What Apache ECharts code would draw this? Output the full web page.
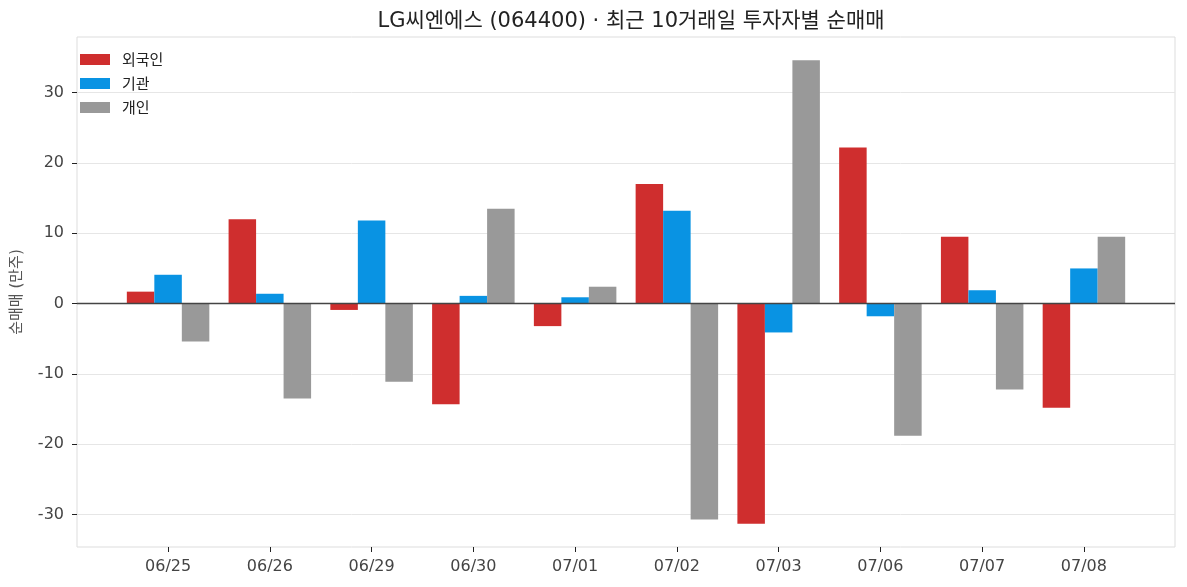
<!DOCTYPE html>
<html><head><meta charset="utf-8">
<script src="https://cdn.jsdelivr.net/npm/echarts@6/dist/echarts.min.js"></script>
<style>html,body{margin:0;padding:0;background:#fff}#c{width:1187px;height:587px}</style>
</head><body><div id="c"></div>
<script>
const dates = ['06/25','06/26','06/29','06/30','07/01','07/02','07/03','07/06','07/07','07/08'];
const foreign = [1.7, 12.0, -0.9, -14.3, -3.2, 17.0, -31.3, 22.2, 9.5, -14.8];
const institution = [4.1, 1.4, 11.8, 1.1, 0.9, 13.2, -4.1, -1.8, 1.9, 5.0];
const individual = [-5.4, -13.5, -11.1, 13.5, 2.4, -30.7, 34.6, -18.8, -12.2, 9.5];
const yTicks = [-30, -20, -10, 0, 10, 20, 30];
const xTickPos = dates.map((d, i) => i);

const FONT = '"DejaVu Sans", "Noto Sans CJK KR"';
const KFONT = '"Noto Sans CJK KR"';
const toPairs = arr => arr.map((v, i) => [i, v]);

const chart = echarts.init(document.getElementById('c'), null, {renderer: 'canvas'});
const barCommon = {type: 'bar', barWidth: 27.5, barGap: '0%', barCategoryGap: '0%'};
chart.setOption({
  animation: false,
  textStyle: {fontFamily: FONT},
  title: {
    text: 'LG씨엔에스 (064400) · 최근 10거래일 투자자별 순매매',
    left: 626, textAlign: 'center', top: 6,
    textStyle: {fontFamily: FONT, fontSize: 21, fontWeight: 'normal', color: '#222'}
  },
  legend: {
    orient: 'vertical', left: 75, top: 47,
    itemWidth: 30, itemHeight: 11, itemGap: 9,
    icon: 'rect',
    textStyle: {fontFamily: KFONT, fontSize: 15, color: '#222', padding: [0, 0, 0, 7]},
    data: ['외국인', '기관', '개인']
  },
  grid: {left: 77, right: 12, top: 37, bottom: 40, show: true, borderColor: '#dddddd', borderWidth: 1, containLabel: false},
  xAxis: {
    type: 'value', min: -0.895, max: 9.895,
    axisLine: {show: false, onZero: false},
    splitLine: {show: false},
    axisTick: {show: true, inside: false, length: 5, lineStyle: {color: '#222', width: 1}, customValues: xTickPos},
    axisLabel: {show: true, customValues: xTickPos, margin: 12, fontFamily: FONT, fontSize: 16, color: '#444',
      formatter: v => dates[Math.round(v)] || ''}
  },
  yAxis: {
    type: 'value', min: -34.6, max: 37.9,
    name: '순매매 (만주)', nameLocation: 'middle', nameGap: 52, nameRotate: 90,
    nameTextStyle: {fontFamily: FONT, fontSize: 15, color: '#555'},
    axisLine: {show: false, onZero: false},
    axisTick: {show: true, inside: false, length: 5, lineStyle: {color: '#222', width: 1}, customValues: yTicks},
    axisLabel: {customValues: yTicks, margin: 13, fontFamily: FONT, fontSize: 16, color: '#444'},
    splitLine: {show: true, lineStyle: {color: '#e6e6e6', width: 1}}
  },
  series: [
    Object.assign({}, barCommon, {name: '외국인', data: toPairs(foreign), itemStyle: {color: '#cf2e2e'},
      markLine: {silent: true, symbol: 'none', label: {show: false}, lineStyle: {color: '#444', width: 1.3, type: 'solid'}, data: [{yAxis: 0}], z: 10}}),
    Object.assign({}, barCommon, {name: '기관', data: toPairs(institution), itemStyle: {color: '#0993e3'}}),
    Object.assign({}, barCommon, {name: '개인', data: toPairs(individual), itemStyle: {color: '#999999'}})
  ]
});
</script>
</body></html>
